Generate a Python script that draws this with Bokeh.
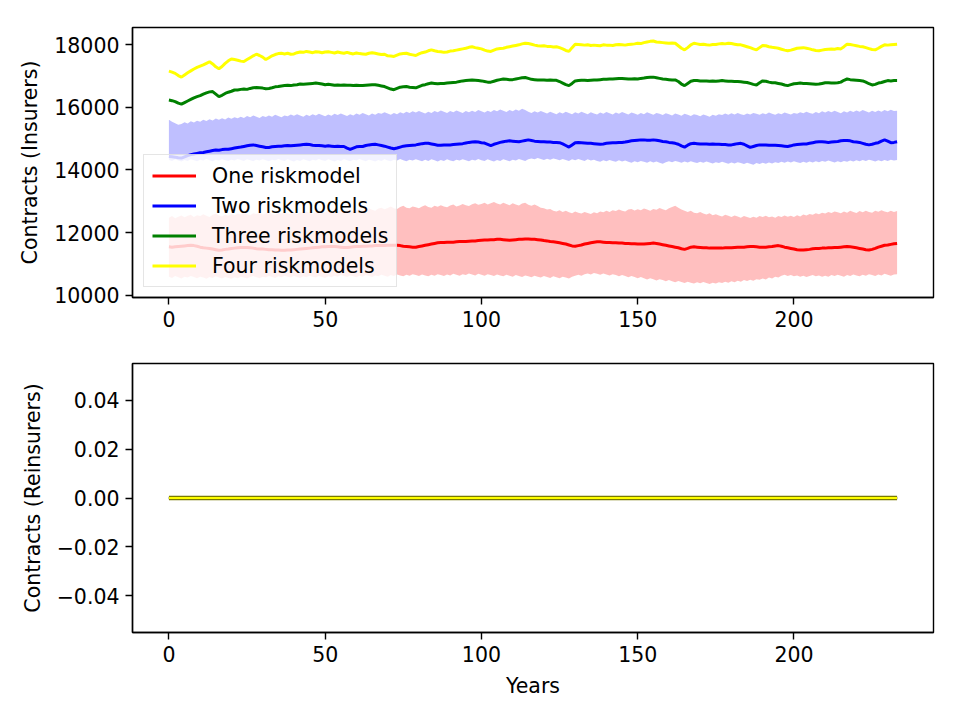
from bokeh.plotting import figure
from bokeh.layouts import column
from bokeh.models import Range1d, FixedTicker, Legend, LegendItem
from bokeh.embed import file_html
from bokeh.resources import INLINE

years = list(range(234))

four_mean = [
    17150, 17120, 17080, 17010, 16960, 17030, 17100, 17160, 17220, 17270,
    17310, 17350, 17400, 17450, 17380, 17290, 17230, 17300, 17400, 17480,
    17540, 17520, 17500, 17470, 17460, 17520, 17580, 17640, 17690, 17650,
    17600, 17520, 17580, 17640, 17680, 17710, 17720, 17700, 17720, 17690,
    17700, 17740, 17760, 17750, 17780, 17760, 17740, 17770, 17760, 17740,
    17760, 17770, 17750, 17730, 17760, 17740, 17720, 17750, 17720, 17700,
    17730, 17710, 17700, 17690, 17720, 17740, 17720, 17700, 17680, 17690,
    17640, 17630, 17620, 17660, 17700, 17710, 17720, 17690, 17670, 17650,
    17700, 17740, 17760, 17800, 17830, 17800, 17780, 17770, 17750, 17760,
    17790, 17800, 17820, 17840, 17860, 17880, 17910, 17930, 17900, 17880,
    17860, 17820, 17790, 17780, 17820, 17860, 17870, 17880, 17910, 17930,
    17950, 17970, 17990, 18020, 18040, 18030, 18010, 17980, 17960, 17950,
    17960, 17940, 17940, 17920, 17930, 17900, 17860, 17810, 17780, 17900,
    18010, 18000, 17990, 17980, 17990, 17970, 17980, 17970, 17960, 17990,
    17980, 17980, 17970, 17990, 18000, 17990, 17980, 18000, 18010, 18020,
    18040, 18030, 18060, 18080, 18100, 18110, 18080, 18070, 18060, 18050,
    18040, 18050, 18040, 17960, 17880, 17830, 17900, 17990, 18040, 18020,
    18000, 18010, 17990, 17980, 18000, 18000, 18020, 18030, 18020, 18040,
    18030, 18010, 17990, 17990, 17960, 17930, 17900, 17860, 17830, 17900,
    17970, 17960, 17930, 17910, 17900, 17880, 17850, 17820, 17800, 17820,
    17850, 17880, 17890, 17900, 17880, 17860, 17830, 17810, 17800, 17820,
    17840, 17850, 17860, 17850, 17870, 17860, 17930, 18010, 18000, 17980,
    17960, 17940, 17930, 17900, 17870, 17840, 17830, 17880, 17940, 17990,
    17980, 17990, 18000, 18010,
]

three_mean = [
    16230, 16210, 16180, 16130, 16100, 16150, 16200, 16250, 16300, 16340,
    16370, 16420, 16460, 16490, 16500, 16420, 16340, 16380, 16440, 16480,
    16510, 16550, 16550, 16570, 16580, 16570, 16600, 16620, 16630, 16620,
    16610, 16590, 16600, 16620, 16650, 16660, 16680, 16690, 16700, 16690,
    16710, 16720, 16740, 16730, 16740, 16750, 16760, 16770, 16760, 16740,
    16720, 16730, 16720, 16700, 16710, 16700, 16710, 16700, 16700, 16690,
    16700, 16690, 16690, 16700, 16710, 16720, 16720, 16700, 16680, 16660,
    16620, 16580, 16560, 16600, 16640, 16650, 16660, 16640, 16630, 16620,
    16660, 16700, 16720, 16750, 16770, 16760, 16750, 16760, 16760, 16770,
    16780, 16790, 16800, 16820, 16840, 16850, 16860, 16870, 16860, 16850,
    16840, 16820, 16800, 16800, 16830, 16860, 16880, 16900, 16890, 16880,
    16880, 16900, 16920, 16940, 16950, 16920, 16890, 16880, 16870, 16870,
    16870, 16860, 16870, 16860, 16860, 16820, 16770, 16720, 16690, 16760,
    16840, 16850, 16860, 16860, 16850, 16860, 16870, 16870, 16880, 16890,
    16890, 16900, 16900, 16910, 16920, 16920, 16910, 16900, 16900, 16910,
    16900, 16920, 16930, 16950, 16960, 16960, 16940, 16920, 16900, 16890,
    16880, 16870, 16870, 16820, 16740, 16690, 16760, 16830, 16850, 16850,
    16840, 16840, 16840, 16830, 16840, 16830, 16840, 16850, 16840, 16830,
    16830, 16820, 16820, 16810, 16800, 16790, 16760, 16730, 16710, 16780,
    16840, 16830, 16800, 16780, 16780, 16760, 16740, 16710, 16690, 16720,
    16750, 16760, 16770, 16760, 16760, 16750, 16740, 16730, 16740, 16760,
    16780, 16780, 16770, 16770, 16780, 16800, 16860, 16900, 16880, 16870,
    16860, 16850, 16840, 16800, 16750, 16710, 16730, 16770, 16790, 16820,
    16850, 16840, 16850, 16850,
]

two_mean = [
    14430, 14420, 14410, 14390, 14380, 14420, 14460, 14490, 14510, 14530,
    14550, 14560, 14580, 14600, 14620, 14640, 14630, 14650, 14660, 14660,
    14680, 14700, 14720, 14730, 14750, 14770, 14790, 14800, 14780, 14760,
    14740, 14720, 14720, 14740, 14750, 14760, 14760, 14770, 14780, 14770,
    14780, 14790, 14800, 14810, 14820, 14810, 14790, 14780, 14780, 14770,
    14760, 14770, 14760, 14750, 14760, 14750, 14750, 14700, 14660, 14700,
    14740, 14750, 14750, 14780, 14800, 14810, 14820, 14800, 14780, 14760,
    14730, 14700, 14680, 14700, 14730, 14760, 14770, 14780, 14790, 14800,
    14820, 14840, 14850, 14850, 14830, 14810, 14790, 14790, 14800, 14800,
    14800, 14810, 14820, 14830, 14840, 14860, 14880, 14890, 14900, 14890,
    14870, 14860, 14820, 14780, 14820, 14850, 14880, 14900, 14920, 14930,
    14920, 14910, 14900, 14920, 14940, 14960, 14940, 14920, 14910, 14900,
    14900, 14890, 14890, 14880, 14880, 14870, 14830, 14780, 14730, 14800,
    14870, 14880, 14870, 14860, 14850, 14850, 14840, 14830, 14820, 14830,
    14850, 14860, 14870, 14870, 14880, 14880, 14890, 14910, 14930, 14940,
    14950, 14960, 14960, 14950, 14950, 14960, 14950, 14930, 14910, 14900,
    14880, 14870, 14850, 14820, 14770, 14730, 14790, 14840, 14850, 14840,
    14830, 14830, 14830, 14820, 14830, 14820, 14820, 14810, 14810, 14800,
    14800, 14820, 14840, 14850, 14820, 14770, 14720, 14750, 14780, 14800,
    14800, 14800, 14790, 14790, 14790, 14780, 14770, 14760, 14750, 14770,
    14800, 14810, 14820, 14830, 14830, 14850, 14870, 14890, 14900, 14900,
    14890, 14880, 14890, 14900, 14910, 14930, 14940, 14940, 14930, 14900,
    14890, 14880, 14850, 14820, 14800, 14820, 14850, 14870, 14920, 14960,
    14920, 14870, 14880, 14900,
]

two_upper = [
    15600, 15540, 15490, 15440, 15470, 15520, 15480, 15550, 15510, 15570,
    15540, 15600, 15560, 15620, 15580, 15640, 15600, 15650, 15610, 15670,
    15630, 15680, 15650, 15700, 15660, 15720, 15680, 15740, 15700, 15660,
    15720, 15690, 15740, 15700, 15760, 15720, 15680, 15740, 15710, 15770,
    15730, 15780, 15740, 15700, 15760, 15720, 15780, 15740, 15790, 15750,
    15710, 15770, 15730, 15790, 15750, 15800, 15760, 15720, 15780, 15740,
    15800, 15760, 15820, 15780, 15740, 15800, 15760, 15820, 15790, 15840,
    15800, 15760, 15820, 15780, 15840, 15800, 15860, 15820, 15870, 15830,
    15880, 15840, 15800, 15860, 15820, 15880, 15840, 15900, 15860, 15820,
    15880, 15840, 15900, 15860, 15820, 15880, 15840, 15890, 15850, 15910,
    15870, 15830, 15890, 15850, 15910, 15870, 15930, 15890, 15850, 15910,
    15870, 15930, 15890, 15950, 15910, 15860, 15820, 15870, 15830, 15880,
    15840, 15800, 15860, 15820, 15780, 15840, 15800, 15860, 15820, 15780,
    15840, 15800, 15860, 15820, 15780, 15840, 15800, 15770, 15830, 15790,
    15850, 15810, 15770, 15830, 15790, 15850, 15810, 15770, 15830, 15800,
    15760, 15820, 15780, 15840, 15800, 15760, 15820, 15790, 15750, 15810,
    15780, 15740, 15800, 15770, 15730, 15790, 15760, 15720, 15780, 15750,
    15710, 15770, 15740, 15700, 15760, 15730, 15780, 15750, 15800, 15760,
    15810, 15770, 15820, 15780, 15750, 15800, 15770, 15820, 15790, 15760,
    15810, 15780, 15830, 15790, 15760, 15810, 15780, 15830, 15800, 15770,
    15820, 15790, 15840, 15810, 15860, 15820, 15790, 15850, 15810, 15870,
    15830, 15880, 15840, 15890, 15850, 15810, 15870, 15830, 15890, 15850,
    15900, 15860, 15910, 15870, 15830, 15890, 15850, 15900, 15860, 15910,
    15870, 15920, 15880, 15890,
]

two_lower = [
    14320, 14290, 14340, 14300, 14270, 14320, 14290, 14340, 14310, 14280,
    14330, 14300, 14350, 14310, 14280, 14330, 14300, 14340, 14310, 14290,
    14330, 14300, 14350, 14320, 14290, 14340, 14310, 14280, 14330, 14300,
    14340, 14310, 14280, 14330, 14300, 14350, 14310, 14290, 14340, 14300,
    14270, 14320, 14290, 14340, 14310, 14280, 14330, 14300, 14350, 14310,
    14290, 14340, 14300, 14270, 14320, 14290, 14340, 14310, 14280, 14330,
    14300, 14350, 14310, 14280, 14330, 14300, 14270, 14320, 14290, 14340,
    14300, 14280, 14330, 14300, 14350, 14310, 14280, 14330, 14300, 14340,
    14310, 14280, 14330, 14290, 14340, 14310, 14270, 14320, 14290, 14340,
    14300, 14280, 14330, 14300, 14340, 14310, 14280, 14330, 14300, 14350,
    14310, 14290, 14340, 14300, 14270, 14320, 14290, 14340, 14310, 14280,
    14330, 14300, 14350, 14320, 14290, 14340, 14370, 14340, 14380, 14350,
    14320, 14360, 14330, 14370, 14340, 14310, 14350, 14320, 14290, 14340,
    14310, 14350, 14320, 14290, 14340, 14300, 14330, 14290, 14260, 14310,
    14280, 14320, 14290, 14260, 14310, 14270, 14300, 14260, 14230, 14280,
    14250, 14290, 14260, 14230, 14280, 14240, 14270, 14230, 14200, 14250,
    14280, 14250, 14290, 14260, 14230, 14270, 14240, 14280, 14250, 14220,
    14260, 14230, 14270, 14240, 14210, 14250, 14220, 14260, 14230, 14200,
    14240, 14210, 14250, 14220, 14190, 14230, 14200, 14170, 14220, 14190,
    14230, 14200, 14240, 14210, 14250, 14220, 14260, 14230, 14270, 14240,
    14280, 14250, 14220, 14260, 14230, 14270, 14240, 14280, 14250, 14290,
    14260, 14300, 14270, 14240, 14280, 14250, 14290, 14260, 14300, 14270,
    14310, 14280, 14320, 14290, 14330, 14300, 14270, 14310, 14280, 14320,
    14290, 14330, 14300, 14320,
]

one_mean = [
    11550, 11540, 11550, 11560, 11570, 11580, 11590, 11600, 11590, 11570,
    11540, 11520, 11510, 11500, 11480, 11460, 11440, 11450, 11470, 11480,
    11500, 11510, 11520, 11530, 11530, 11530, 11520, 11510, 11490, 11480,
    11480, 11470, 11460, 11460, 11450, 11450, 11440, 11440, 11450, 11450,
    11460, 11470, 11480, 11490, 11500, 11510, 11520, 11530, 11540, 11550,
    11550, 11560, 11560, 11560, 11550, 11540, 11530, 11530, 11540, 11550,
    11560, 11560, 11570, 11570, 11580, 11580, 11590, 11590, 11590, 11590,
    11600, 11600, 11600, 11600, 11590, 11570, 11560, 11550, 11540, 11540,
    11560, 11580, 11600, 11620, 11640, 11660, 11680, 11690, 11690, 11700,
    11700, 11700, 11710, 11720, 11720, 11720, 11730, 11740, 11740, 11750,
    11760, 11770, 11770, 11780, 11780, 11790, 11790, 11780, 11770, 11760,
    11770, 11780, 11790, 11790, 11800, 11800, 11790, 11790, 11780, 11770,
    11750, 11740, 11720, 11710, 11700, 11680, 11660, 11640, 11610, 11580,
    11570, 11590, 11610, 11640, 11660, 11680, 11700, 11710, 11710, 11700,
    11690, 11690, 11680, 11680, 11670, 11670, 11660, 11660, 11650, 11650,
    11640, 11640, 11640, 11650, 11660, 11670, 11660, 11640, 11620, 11600,
    11580, 11560, 11540, 11520, 11490, 11470, 11500, 11540, 11550, 11540,
    11530, 11520, 11520, 11510, 11510, 11510, 11510, 11510, 11520, 11520,
    11520, 11530, 11540, 11540, 11540, 11550, 11560, 11560, 11550, 11540,
    11540, 11540, 11550, 11560, 11580, 11590, 11570, 11540, 11520, 11500,
    11480, 11460, 11450, 11450, 11460, 11470, 11490, 11500, 11500, 11510,
    11510, 11520, 11520, 11530, 11530, 11540, 11550, 11560, 11550, 11540,
    11520, 11500, 11480, 11460, 11450, 11470, 11500, 11540, 11570, 11600,
    11610, 11630, 11650, 11660,
]

one_upper = [
    12480, 12530, 12460, 12510, 12550, 12490, 12540, 12570, 12500, 12560,
    12530, 12590, 12540, 12500, 12570, 12610, 12550, 12520, 12580, 12540,
    12600, 12560, 12610, 12580, 12640, 12590, 12560, 12620, 12600, 12640,
    12580, 12620, 12650, 12600, 12570, 12630, 12610, 12660, 12620, 12590,
    12640, 12600, 12650, 12620, 12680, 12630, 12600, 12660, 12630, 12670,
    12650, 12700, 12660, 12630, 12690, 12720, 12660, 12700, 12740, 12680,
    12720, 12760, 12700, 12740, 12780, 12730, 12700, 12770, 12800, 12750,
    12790, 12840, 12780, 12760, 12820, 12860, 12800, 12780, 12840, 12810,
    12780, 12840, 12880, 12820, 12800, 12860, 12830, 12880, 12840, 12810,
    12870, 12900, 12840, 12870, 12920, 12880, 12850, 12910, 12940, 12890,
    12920, 12960, 12900, 12940, 12980, 12930, 12900, 12960, 12920, 12880,
    12940, 12900, 12870, 12930, 12960, 12890, 12860, 12900, 12850, 12800,
    12780, 12740, 12760, 12700, 12680, 12720, 12660, 12700, 12650, 12620,
    12680, 12640, 12610, 12660, 12630, 12600, 12650, 12620, 12680, 12650,
    12700, 12660, 12720, 12690, 12740, 12700, 12680, 12740, 12760, 12710,
    12750, 12720, 12770, 12740, 12700, 12760, 12730, 12790, 12750, 12720,
    12780, 12820, 12860, 12800, 12740, 12700, 12660, 12700, 12640, 12620,
    12660, 12610, 12580, 12620, 12560, 12590, 12550, 12520, 12570, 12540,
    12500, 12550, 12520, 12480, 12530, 12500, 12470, 12510, 12480, 12530,
    12500, 12540, 12490, 12520, 12480, 12530, 12500, 12550, 12510, 12540,
    12500, 12560, 12520, 12580, 12550, 12600, 12570, 12620, 12590, 12640,
    12610, 12660, 12630, 12680, 12650, 12620, 12680, 12640, 12700, 12660,
    12630, 12690, 12650, 12700, 12660, 12640, 12700, 12670, 12720, 12680,
    12650, 12700, 12660, 12690,
]

one_lower = [
    10600, 10560, 10620, 10580, 10540, 10600, 10570, 10620, 10590, 10550,
    10600, 10570, 10530, 10590, 10560, 10610, 10570, 10540, 10590, 10560,
    10530, 10580, 10550, 10600, 10570, 10540, 10590, 10620, 10580, 10550,
    10600, 10570, 10620, 10590, 10560, 10610, 10580, 10630, 10600, 10570,
    10620, 10590, 10560, 10610, 10580, 10630, 10600, 10570, 10620, 10590,
    10560, 10610, 10580, 10630, 10600, 10650, 10620, 10590, 10640, 10610,
    10580, 10630, 10600, 10650, 10620, 10590, 10640, 10610, 10660, 10630,
    10600, 10650, 10620, 10670, 10640, 10610, 10660, 10630, 10680, 10650,
    10620, 10670, 10640, 10610, 10660, 10630, 10680, 10650, 10620, 10670,
    10640, 10690, 10660, 10630, 10680, 10650, 10700, 10670, 10640, 10690,
    10660, 10630, 10680, 10650, 10620, 10670, 10640, 10610, 10660, 10630,
    10600, 10650, 10620, 10590, 10640, 10610, 10580, 10630, 10600, 10570,
    10620, 10590, 10560, 10610, 10580, 10550, 10600, 10570, 10540, 10600,
    10630, 10660, 10630, 10680, 10700, 10670, 10720, 10690, 10660, 10700,
    10670, 10640, 10680, 10650, 10610, 10650, 10620, 10580, 10620, 10590,
    10550, 10590, 10550, 10510, 10550, 10520, 10480, 10520, 10490, 10450,
    10490, 10450, 10420, 10460, 10430, 10400, 10440, 10410, 10380, 10420,
    10390, 10430, 10400, 10370, 10410, 10380, 10420, 10400, 10440, 10410,
    10450, 10420, 10470, 10440, 10490, 10460, 10500, 10470, 10520, 10500,
    10540, 10510, 10570, 10540, 10600, 10570, 10630, 10660, 10620, 10650,
    10610, 10640, 10600, 10630, 10590, 10620, 10650, 10610, 10640, 10600,
    10630, 10600, 10650, 10620, 10660, 10630, 10600, 10650, 10620, 10670,
    10640, 10610, 10660, 10630, 10680, 10650, 10620, 10670, 10640, 10690,
    10660, 10630, 10670, 10680,
]

# Reinsurer contracts: every series stays at zero throughout
reins_one = [0] * len(years)
reins_two = [0] * len(years)
reins_three = [0] * len(years)
reins_four = [0] * len(years)

labels = ["One riskmodel", "Two riskmodels", "Three riskmodels", "Four riskmodels"]
colors = ["#ff0000", "#0000ff", "#008000", "#ffff00"]
x_ticks = [0, 50, 100, 150, 200]
top_ticks = [10000, 12000, 14000, 16000, 18000]
bot_ticks = [-0.04, -0.02, 0.0, 0.02, 0.04]
bot_tick_labels = {-0.04: "\u22120.04", -0.02: "\u22120.02", 0.0: "0.00", 0.02: "0.02", 0.04: "0.04"}

FONT = "DejaVu Sans"
FS = "20.5px"


def make_fig(height, btop, bbottom, yrange, yticks, ylabel, xlabel=None):
    p = figure(width=960, height=height, output_backend="svg", toolbar_location=None,
               x_range=Range1d(-11.65, 244.65), y_range=yrange,
               min_border_left=132, min_border_right=27,
               min_border_top=btop, min_border_bottom=bbottom)
    p.xgrid.visible = False
    p.ygrid.visible = False
    p.outline_line_color = "black"
    p.outline_line_width = 1.4
    p.outline_line_alpha = 1
    p.xaxis.ticker = FixedTicker(ticks=x_ticks)
    p.yaxis.ticker = FixedTicker(ticks=yticks)
    for ax in [p.xaxis[0], p.yaxis[0]]:
        ax.axis_line_color = "black"
        ax.axis_line_width = 1.4
        ax.major_tick_line_color = "black"
        ax.major_tick_line_width = 1.4
        ax.major_tick_out = 7
        ax.major_tick_in = 0
        ax.minor_tick_line_color = None
        ax.major_label_text_font = FONT
        ax.major_label_text_font_size = FS
        ax.major_label_text_color = "black"
        ax.major_label_standoff = 6
        ax.axis_label_text_font = FONT
        ax.axis_label_text_font_size = FS
        ax.axis_label_text_font_style = "normal"
        ax.axis_label_text_color = "black"
        ax.axis_label_standoff = 9
    p.yaxis.axis_label = ylabel
    if xlabel:
        p.xaxis.axis_label = xlabel
    return p


p1 = make_fig(345, 27, 48, Range1d(9936, 18542), top_ticks, "Contracts (Insurers)")
p1.yaxis.formatter.use_scientific = False

p1.varea(x=years, y1=one_lower, y2=one_upper, fill_color="#ff0000", fill_alpha=0.25)
p1.varea(x=years, y1=two_lower, y2=two_upper, fill_color="#0000ff", fill_alpha=0.25)
r1 = p1.line(years, one_mean, line_color=colors[0], line_width=3)
r2 = p1.line(years, two_mean, line_color=colors[1], line_width=3)
r3 = p1.line(years, three_mean, line_color=colors[2], line_width=3)
r4 = p1.line(years, four_mean, line_color=colors[3], line_width=3)

legend = Legend(items=[LegendItem(label=labels[i], renderers=[r]) for i, r in enumerate([r1, r2, r3, r4])],
                location=(11, 10))
legend.label_text_font = FONT
legend.label_text_font_size = FS
legend.label_text_color = "black"
legend.glyph_width = 44
legend.glyph_height = 25
legend.label_height = 25
legend.label_standoff = 16
legend.spacing = 5
legend.padding = 8
legend.margin = 0
legend.border_line_color = "#cccccc"
legend.border_line_width = 1.3
legend.background_fill_color = "white"
legend.background_fill_alpha = 0.8
p1.add_layout(legend, "center")

p2 = make_fig(375, 18, 88, Range1d(-0.055, 0.055), bot_ticks, "Contracts (Reinsurers)", "Years")
p2.yaxis.major_label_overrides = bot_tick_labels
p2.line(years, reins_one, line_color="#7a7a00", line_width=4.5)
p2.line(years, reins_one, line_color=colors[0], line_width=2)
p2.line(years, reins_two, line_color=colors[1], line_width=2)
p2.line(years, reins_three, line_color=colors[2], line_width=2)
p2.line(years, reins_four, line_color=colors[3], line_width=2)

layout = column(p1, p2, spacing=0)
open("out.html", "w").write(file_html(layout, INLINE))
